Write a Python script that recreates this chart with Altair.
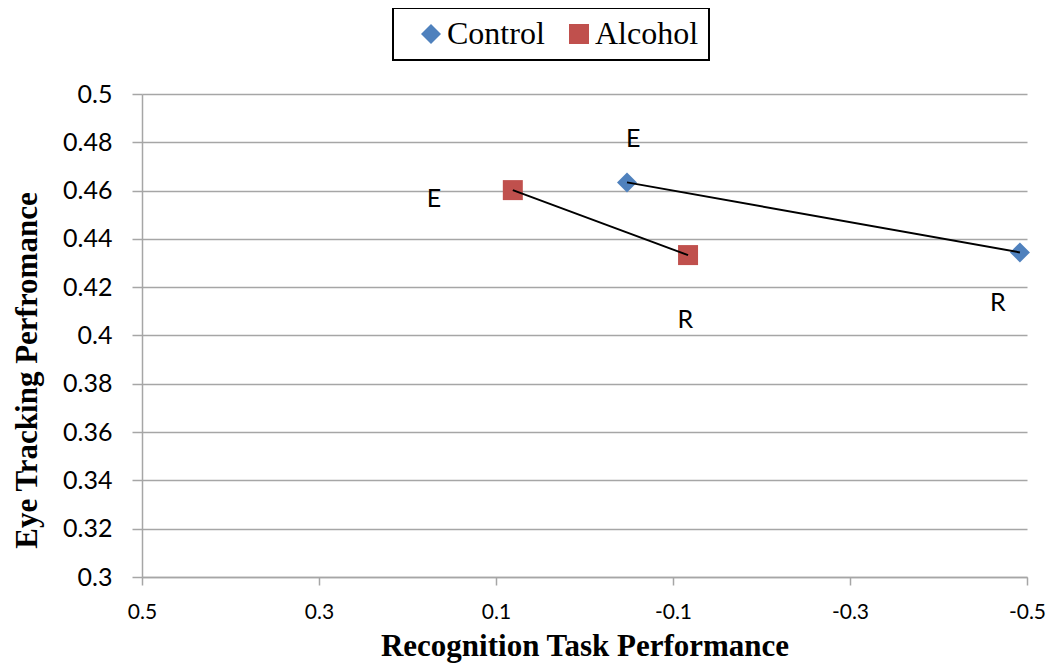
import altair as alt
import pandas as pd

# ---- data ----
groups = ["Control", "Control", "Alcohol", "Alcohol"]
phases = ["E", "R", "E", "R"]
step = [1, 2, 1, 2]
recognition = [-0.048, -0.492, 0.081, -0.117]
eye_tracking = [0.4634, 0.4344, 0.4602, 0.4333]
label_x = [-0.055, -0.467, 0.170, -0.114]
label_y = [0.4814, 0.4135, 0.4565, 0.4065]

series = ["Control", "Alcohol"]
series_colors = ["#4F81BD", "#C0504D"]
series_shapes = ["diamond", "square"]

x_ticks = [0.5, 0.3, 0.1, -0.1, -0.3, -0.5]
y_ticks = [0.3, 0.32, 0.34, 0.36, 0.38, 0.4, 0.42, 0.44, 0.46, 0.48, 0.5]

df = pd.DataFrame({
    "group": groups,
    "phase": phases,
    "step": step,
    "recognition": recognition,
    "eye": eye_tracking,
    "lx": label_x,
    "ly": label_y,
})

GRID = "#A6A6A6"

x_scale = alt.Scale(domain=[-0.5, 0.5], reverse=True, nice=False, zero=False)
y_scale = alt.Scale(domain=[0.3, 0.5], nice=False, zero=False)

x_axis = alt.Axis(
    values=x_ticks, labelExpr="'' + datum.value", grid=False,
    domainColor=GRID, domainWidth=1.5, tickColor=GRID, tickWidth=1.5, tickSize=8,
    labelFont="Lato", labelFontSize=21, labelColor="black", labelPadding=16,
    labelFlush=False, labelOverlap=False,
    title="Recognition Task Performance", titleFont="Liberation Serif",
    titleFontSize=31, titleFontWeight="bold", titleColor="black",
    titleY=78, titleBaseline="alphabetic",
)
y_axis = alt.Axis(
    values=y_ticks, labelExpr="'' + datum.value", grid=True,
    gridColor=GRID, gridWidth=1.5,
    domainColor=GRID, domainWidth=1.5, tickColor=GRID, tickWidth=1.5, tickSize=10,
    labelFont="Lato", labelFontSize=25, labelColor="black", labelPadding=20,
    labelFlush=False, labelOverlap=False,
    title="Eye Tracking Perfromance", titleFont="Liberation Serif",
    titleFontSize=31, titleFontWeight="bold", titleColor="black",
    titleX=-106, titleY=276, titleAngle=-90, titleAlign="center",
    titleBaseline="alphabetic",
)

legend = alt.Legend(
    orient="none", legendX=251, legendY=-86, direction="horizontal", title=None,
    labelFont="Liberation Serif", labelFontSize=32, labelColor="black",
    symbolSize=400, symbolStrokeWidth=0, labelOffset=0, columnPadding=6,
    strokeColor="black", padding=10, symbolOffset=12,
)

base = alt.Chart(df)

points = base.mark_point(filled=True, size=400, opacity=1).encode(
    x=alt.X("recognition:Q", scale=x_scale, axis=x_axis),
    y=alt.Y("eye:Q", scale=y_scale, axis=y_axis),
    color=alt.Color("group:N", scale=alt.Scale(domain=series, range=series_colors), legend=legend),
    shape=alt.Shape("group:N", scale=alt.Scale(domain=series, range=series_shapes), legend=legend),
)

lines = base.mark_line(color="black", strokeWidth=2).encode(
    x="recognition:Q", y="eye:Q", detail="group:N", order="step:Q",
)

texts = base.mark_text(font="Lato", fontSize=25, color="black", align="center", baseline="middle").encode(
    x="lx:Q", y="ly:Q", text="phase:N",
)

chart = alt.layer(points, lines, texts).properties(
    width=885, height=483,
    autosize=alt.AutoSizeParams(type="none"),
    padding={"left": 134, "top": 86, "right": 19, "bottom": 87},
).configure_view(stroke=None).configure_legend(strokeWidth=2)

chart.save("out.html", embed_options={"renderer": "svg", "actions": False})
